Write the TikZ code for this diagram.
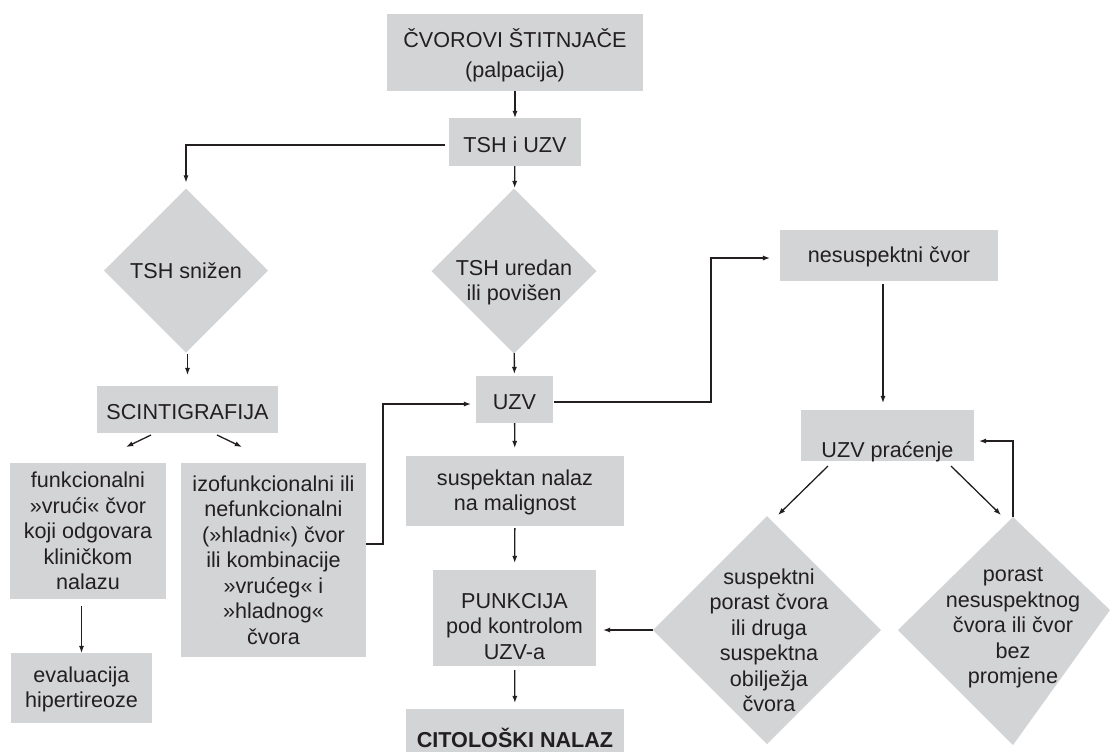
\documentclass[tikz,border=0pt]{standalone}
\usepackage{fontspec}
\setmainfont{Liberation Sans}
\usetikzlibrary{arrows.meta,shapes.geometric,calc}
\definecolor{boxgray}{RGB}{211,212,214}
\definecolor{ink}{RGB}{35,31,32}
\begin{document}
\begin{tikzpicture}[x=0.5pt,y=-0.5pt,
		box/.style={fill=boxgray, inner sep=0, outer sep=0},
		dia/.style={diamond, aspect=1, fill=boxgray, inner sep=0, outer sep=0},
		txt/.style={align=center, inner sep=0, text=ink, font=\fontsize{10.8}{12.75}\selectfont},
		arr/.style={draw=ink, line width=0.65pt, -{Latex[length=3.6pt,width=2.6pt]}}]
		\useasboundingbox (0,0) rectangle (1115,752);
		\node[box, minimum width=128pt, minimum height=38.5pt, label={[txt, yshift=-1.25pt, font=\fontsize{10.8}{15}\selectfont]center:ČVOROVI ŠTITNJAČE\\(palpacija)}] (cvor) at (515,52.5) {};
		\node[box, minimum width=66pt, minimum height=24pt, label={[txt, yshift=-1.5pt]center:TSH i UZV}] (tsh) at (515,142) {};
		\node[dia, minimum size=82pt, label={[txt]center:TSH snižen}] (snizen) at (186,270.5) {};
		\node[dia, minimum size=82.5pt, label={[txt, yshift=-5.75pt]center:TSH uredan\\ili povišen}] (uredan) at (514,271) {};
		\node[box, minimum width=90.5pt, minimum height=23.5pt, label={[txt, yshift=-1.25pt]center:SCINTIGRAFIJA}] (scint) at (187.5,409.5) {};
		\node[box, minimum width=78pt, minimum height=68pt, label={[txt]center:funkcionalni\\»vrući« čvor\\koji odgovara\\kliničkom\\nalazu}] (vruci) at (88,531) {};
		\node[box, minimum width=92.5pt, minimum height=97pt, label={[txt]center:izofunkcionalni ili\\nefunkcionalni\\(»hladni«) čvor\\ili kombinacije\\»vrućeg« i\\»hladnog«\\čvora}] (hladni) at (273.5,560) {};
		\node[box, minimum width=70.5pt, minimum height=35pt, label={[txt, yshift=-0.75pt]center:evaluacija\\hipertireoze}] (hiper) at (81.5,688) {};
		\node[box, minimum width=38.5pt, minimum height=23.5pt, label={[txt, yshift=-1.25pt]center:UZV}] (uzv) at (514.5,399.5) {};
		\node[box, minimum width=109pt, minimum height=35pt, label={[txt, yshift=-0.75pt]center:suspektan nalaz\\na malignost}] (susp) at (515,491) {};
		\node[box, minimum width=81.5pt, minimum height=48pt, label={[txt, yshift=-4.25pt]center:PUNKCIJA\\pod kontrolom\\UZV-a}] (punk) at (514.5,618) {};
		\node[box, minimum width=109pt, minimum height=21.5pt, label={[txt, yshift=-3.75pt, font=\fontsize{10.8}{12.75}\selectfont\bfseries]center:CITOLOŠKI NALAZ}] (cito) at (515,730.5) {};
		\node[box, minimum width=109pt, minimum height=25.5pt, label={[txt, yshift=-0.75pt]center:nesuspektni čvor}] (nesusp) at (889,255.5) {};
		\node[box, minimum width=86.5pt, minimum height=25.5pt, label={[txt, yshift=-8.25pt]center:UZV praćenje}] (pracenje) at (887.5,435.5) {};
		\node[dia, minimum size=114pt, label={[txt, xshift=1pt, yshift=-5.25pt]center:suspektni\\porast čvora\\ili druga\\suspektna\\obilježja\\čvora}] (sumnja) at (767,630) {};
		\coordinate (bpN) at (1013,517);
		\coordinate (bpE) at (1110,610);
		\coordinate (bpS) at (1013,745);
		\coordinate (bpW) at (898,630);
		\fill[boxgray] (bpN) -- (bpE) -- (bpS) -- (bpW) -- cycle;
		\node[txt] (bezprom) at (1013,628) {porast\\nesuspektnog\\čvora ili čvor\\bez\\promjene};
		\draw[arr] (cvor) -- (tsh);
		\draw[arr, shorten <=2pt, shorten >=3pt] ([yshift=-1.5pt]tsh.west) -| (snizen.north);
		\draw[arr, shorten >=0.5pt] (tsh) -- (uredan);
		\draw[arr, shorten <=0.5pt, shorten >=5.5pt] (scint.north |- snizen.south) -- (scint.north);
		\draw[arr, shorten >=1pt] (uredan) -- (uzv);
		\draw[arr] ($(scint.south)+(-36.5,2)$) -- ($(vruci.north)+(38,-16)$);
		\draw[arr] ($(scint.south)+(29.5,2)$) -- ($(hladni.north)+(-31.5,-16)$);
		\draw[arr, shorten <=3.5pt] (hiper.north |- vruci.south) -- (hiper.north);
		\draw[arr, shorten >=2.5pt] ($(hladni.east)+(0,-16)$) -- ++(17,0) |- ($(uzv.west)+(0,4.5)$);
		\draw[arr, shorten >=5pt] ($(uzv.east)+(1,2.5)$) -- ++(157,0) |- ($(nesusp.west)+(0,2.5)$);
		\draw[arr, shorten >=4pt] (uzv) -- (susp);
		\draw[arr, shorten <=1pt, shorten >=3.5pt] (susp) -- (punk);
		\draw[arr, shorten <=2pt, shorten >=3pt] (punk) -- (cito);
		\draw[arr, shorten <=1.5pt, shorten >=3.5pt] ($(pracenje.north |- nesusp.south)+(-4.5,0)$) -- ($(pracenje.north)+(-4.5,0)$);
		\draw[arr] ($(pracenje.south)+(-59.5,5)$) -- ($(sumnja.north)+(11,-1)$);
		\draw[arr] ($(pracenje.south)+(63.5,5)$) -- ($(bpN)+(-12,-2)$);
		\draw[arr, shorten >=2.5pt] (bpN) |- ($(pracenje.east)+(0,5.5)$);
		\draw[arr, shorten >=3.5pt] (sumnja.west) -- (sumnja.west -| punk.east);
	\end{tikzpicture}
\end{document}
